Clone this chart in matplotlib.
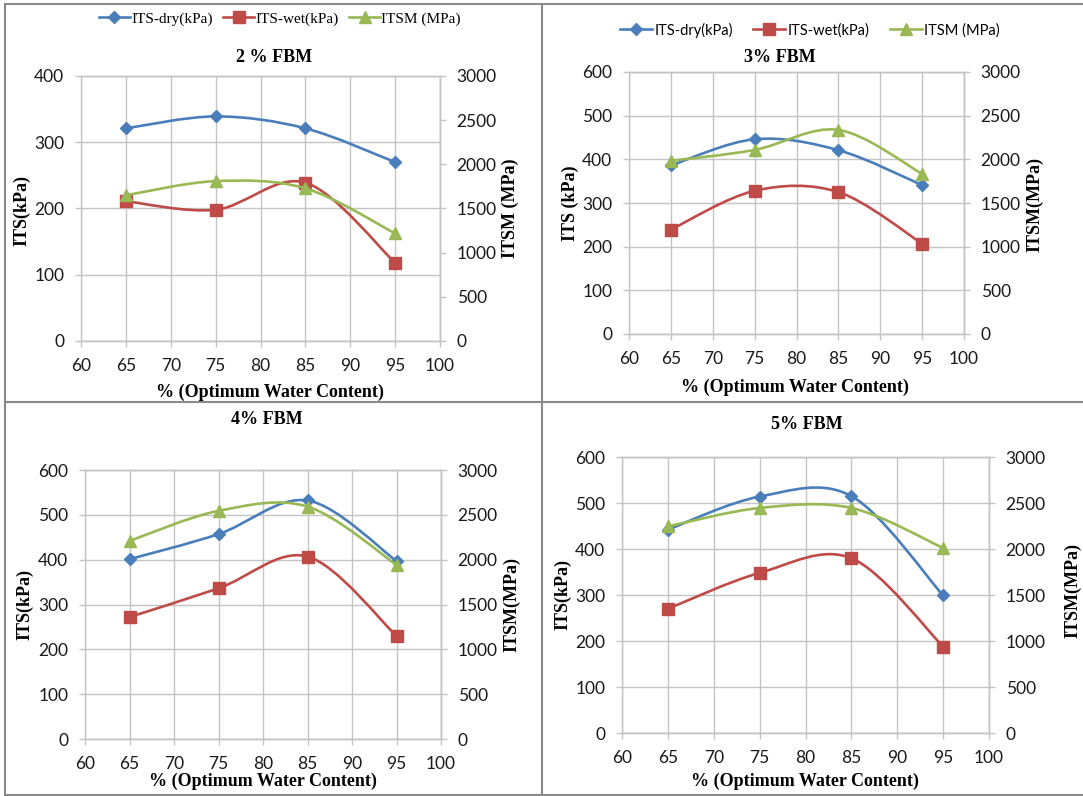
import numpy as np
import matplotlib
matplotlib.use('Agg')
import matplotlib.pyplot as plt
from matplotlib.path import Path
from matplotlib.patches import PathPatch
from matplotlib.lines import Line2D

W, H = 1083, 796

# % of optimum water content
owc = [65, 75, 85, 95]

# 2 % FBM
dry_2 = [321, 339, 321, 270]
wet_2 = [211, 198, 239, 118]
itsm_2 = [1650, 1810, 1728, 1218]

# 3 % FBM
dry_3 = [386, 446, 421, 341]
wet_3 = [239, 328, 325, 207]
itsm_3 = [1983, 2108, 2337, 1834]

# 4 % FBM
dry_4 = [401, 457, 532, 397]
wet_4 = [272, 336, 407, 230]
itsm_4 = [2209, 2544, 2592, 1942]

# 5 % FBM
dry_5 = [442, 514, 515, 299]
wet_5 = [270, 348, 380, 188]
itsm_5 = [2246, 2446, 2446, 2011]

series_names = ['ITS-dry(kPa)', 'ITS-wet(kPa)', 'ITSM (MPa)']

BLUE = '#4a7ebb'
RED = '#be4b48'
GREEN = '#98b954'
GRID = '#c4c4c4'
BORDER = '#8a8a8a'
SERIF = 'Liberation Serif'
SANS = 'Lato'


def smooth_path(x, y):
    # excel style smoothed line (catmull-rom as cubic bezier)
    pts = np.column_stack([x, y]).astype(float)
    n = len(pts)
    verts = [pts[0]]
    codes = [Path.MOVETO]
    for i in range(n - 1):
        p0 = pts[max(i - 1, 0)]
        p1 = pts[i]
        p2 = pts[i + 1]
        p3 = pts[min(i + 2, n - 1)]
        verts += [p1 + (p2 - p0) / 6, p2 - (p3 - p1) / 6, p2]
        codes += [Path.CURVE4] * 3
    return Path(verts, codes)


def draw_series(ax, y, color, marker, ms):
    ax.add_patch(PathPatch(smooth_path(owc, y), fill=False, edgecolor=color,
                           lw=1.9, capstyle='round', joinstyle='round'))
    ax.plot(owc, y, ls='none', marker=marker, ms=ms, color=color, mec=color)


def pbox(x0, y0, x1, y1):
    return [x0 / W, 1 - y1 / H, (x1 - x0) / W, (y1 - y0) / H]


def make_panel(fig, box, dry, wet, itsm, ymax):
    ax = fig.add_axes(pbox(*box))
    ax2 = ax.twinx()
    draw_series(ax, dry, BLUE, 'D', 6.5)
    draw_series(ax, wet, RED, 's', 8)
    draw_series(ax2, itsm, GREEN, '^', 8.5)

    ax.set_xlim(60, 100)
    ax.set_xticks(range(60, 101, 5))
    ax.set_ylim(0, ymax)
    ax.set_yticks(range(0, ymax + 1, 100))
    ax2.set_ylim(0, 3000)
    ax2.set_yticks(range(0, 3001, 500))
    ax.grid(True, color=GRID, lw=1)
    ax.set_axisbelow(True)
    for a in (ax, ax2):
        for s in a.spines.values():
            s.set_color(GRID)
            s.set_linewidth(1)
        a.tick_params(direction='out', length=4, width=1, color=GRID,
                      labelsize=12.5, labelcolor='#1a1a1a', pad=8)
        for lab in a.get_xticklabels() + a.get_yticklabels():
            lab.set_family(SANS)
    ax2.spines['left'].set_visible(False)
    return ax, ax2


fig = plt.figure(figsize=(W / 100, H / 100), dpi=100)

make_panel(fig, (81, 76, 440, 341), dry_2, wet_2, itsm_2, 400)
make_panel(fig, (629, 72, 964, 334), dry_3, wet_3, itsm_3, 600)
make_panel(fig, (85, 470, 441, 739), dry_4, wet_4, itsm_4, 600)
make_panel(fig, (622, 457, 989, 733), dry_5, wet_5, itsm_5, 600)


def ftext(x, y, s, **kw):
    fig.text(x / W, 1 - y / H, s, ha='center', va='center', family=SERIF,
             weight='bold', size=13, **kw)


# titles
ftext(274, 58, '2 % FBM')
ftext(780, 58, '3% FBM')
ftext(267, 419, '4% FBM')
ftext(807, 425, '5% FBM')

# x labels
ftext(270, 392, '% (Optimum Water Content)')
ftext(795, 387, '% (Optimum Water Content)')
ftext(263, 781, '% (Optimum Water Content)')
ftext(805, 781, '% (Optimum Water Content)')

# left y labels
ftext(22, 210, 'ITS(kPa)', rotation=90)
ftext(570, 203, 'ITS (kPa)', rotation=90)
ftext(25, 605, 'ITS(kPa)', rotation=90)
ftext(563, 595, 'ITS(kPa)', rotation=90)

# right y labels
ftext(510, 208, 'ITSM (MPa)', rotation=90)
ftext(1035, 205, 'ITSM(MPa)', rotation=90)
ftext(512, 605, 'ITSM(MPa)', rotation=90)
ftext(1073, 591, 'ITSM(MPa)', rotation=90)

# legends (top two panels only)
handles = [Line2D([], [], color=BLUE, lw=1.9, marker='D', ms=6.5),
           Line2D([], [], color=RED, lw=1.9, marker='s', ms=8),
           Line2D([], [], color=GREEN, lw=1.9, marker='^', ms=8.5)]
fig.legend(handles, series_names, loc='center', bbox_to_anchor=(280 / W, 1 - 19 / H),
           ncol=3, frameon=False, handlelength=2.0, handletextpad=0.1,
           columnspacing=0.7, prop={'family': SERIF, 'size': 11})
fig.legend(handles, series_names, loc='center', bbox_to_anchor=(810 / W, 1 - 30 / H),
           ncol=3, frameon=False, handlelength=2.2, handletextpad=0.15,
           columnspacing=1.4, prop={'family': SANS, 'size': 10.5})

# panel borders
for xs, ys in [([5, 5], [4, 795]), ([5, W], [4, 4]), ([5, W], [795, 795]),
               ([542, 542], [4, 795]), ([5, W], [402, 402])]:
    fig.add_artist(Line2D([x / W for x in xs], [1 - y / H for y in ys],
                          color=BORDER, lw=1.5))

fig.savefig('out.png', dpi=100)
